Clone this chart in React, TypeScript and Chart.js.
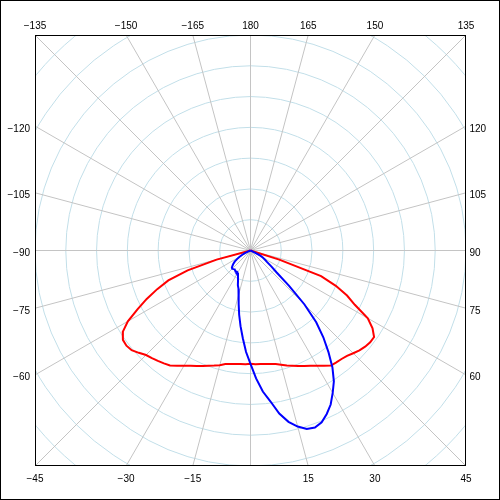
import React, { useEffect, useRef } from "react";
import { Chart, registerables } from "chart.js";

Chart.register(...registerables);

// Polar angles (degrees; 0 = straight down, 90 = right, 180 = up)
const ANGLES = [
  -77.5, -75, -72.5, -70, -67.5, -65, -62.5, -60, -57.5, -55, -52.5, -50, -47.5, -45, -42.5, -40,
  -37.5, -35, -32.5, -30, -27.5, -25, -22.5, -20, -17.5, -15, -12.5, -10, -7.5, -5, -2.5, 0,
  2.5, 5, 7.5, 10, 12.5, 15, 17.5, 20, 22.5, 25, 27.5, 30, 32.5, 35, 37.5, 40,
  42.5, 45, 47.5, 50, 52.5, 55, 57.5, 60, 62.5, 65, 67.5, 70, 72.5, 75,
];

// Red curve intensity per angle
const RED_VALUES = [
  0, 57, 107, 142, 164, 186, 207, 230, 246, 253, 254, 252, 246, 240, 237, 234,
  231, 228, 222, 216, 211, 207, 203, 199, 196, 193, 189, 187, 186, 185, 185, 184,
  185, 185, 186, 187, 189, 192, 196, 199, 203, 207, 211, 216, 222, 228, 229, 230,
  232, 236, 240, 243, 245, 245, 235, 220, 191, 173, 150, 122, 49, 0,
];

// Blue curve intensity per angle
const BLUE_VALUES = [
  0, 0, 0, 0, 3, 10, 15, 21, 26, 31, 35, 38, 41, 42, 41, 40,
  41, 42, 41, 42, 44, 48, 53, 60, 65, 74, 89, 106, 124, 143, 165, 184,
  208, 230, 247, 269, 285, 296, 304, 306, 302, 293, 282, 267, 252, 232, 208, 184,
  158, 124, 85, 55, 43, 33, 28, 23, 18, 7, 0, 0, 0, 0,
];

// Grid: concentric rings and radial spokes
const RING_VALUES = [50, 100, 150, 200, 250, 300, 350, 400, 450, 500];
const SPOKE_ANGLES = [
  -165, -150, -135, -120, -105, -90, -75, -60, -45, -30, -15, 0,
  15, 30, 45, 60, 75, 90, 105, 120, 135, 150, 165, 180,
];
const LABEL_ANGLES = [
  -135, -150, -165, 180, 165, 150, 135,
  -120, -105, -90, -75, -60,
  120, 105, 90, 75, 60,
  -45, -30, -15, 15, 30, 45,
];
const LIMIT = 350;

const fmt = (v: number) => String(v).replace("-", "\u2212");

export default function App() {
  const ref = useRef<HTMLCanvasElement>(null);

  useEffect(() => {
    const canvas = ref.current;
    if (!canvas) return;
    document.body.style.margin = "0";

    const toXY = (rs: number[]) =>
      ANGLES.map((a, i) => {
        const t = (a * Math.PI) / 180;
        return { x: rs[i] * Math.sin(t), y: -rs[i] * Math.cos(t) };
      });

    const polarPlugin = {
      id: "polarGrid",
      beforeDatasetsDraw(chart: any) {
        const { ctx, chartArea: ca, scales } = chart;
        const xs = scales.x;
        const ys = scales.y;
        const cx = xs.getPixelForValue(0);
        const cy = ys.getPixelForValue(0);
        ctx.save();
        ctx.beginPath();
        ctx.rect(ca.left, ca.top, ca.right - ca.left, ca.bottom - ca.top);
        ctx.clip();
        ctx.lineWidth = 1;
        ctx.strokeStyle = "#c2dfe9";
        for (const rv of RING_VALUES) {
          const rp = xs.getPixelForValue(rv) - cx;
          ctx.beginPath();
          ctx.arc(cx, cy, rp, 0, Math.PI * 2);
          ctx.stroke();
        }
        ctx.strokeStyle = "#c4c4c4";
        const far = LIMIT * 2;
        for (const a of SPOKE_ANGLES) {
          const t = (a * Math.PI) / 180;
          ctx.beginPath();
          ctx.moveTo(cx, cy);
          ctx.lineTo(xs.getPixelForValue(far * Math.sin(t)), ys.getPixelForValue(-far * Math.cos(t)));
          ctx.stroke();
        }
        ctx.restore();
      },
      afterDraw(chart: any) {
        const { ctx, chartArea: ca, scales, width, height } = chart;
        const xs = scales.x;
        const ys = scales.y;
        ctx.save();
        ctx.strokeStyle = "#000";
        ctx.lineWidth = 1;
        ctx.strokeRect(ca.left + 0.5, ca.top + 0.5, ca.right - ca.left - 1, ca.bottom - ca.top - 1);
        ctx.strokeRect(0.5, 0.5, width - 1, height - 1);
        ctx.fillStyle = "#000";
        ctx.font = "10px 'Liberation Sans', Arial, sans-serif";
        ctx.textBaseline = "alphabetic";
        for (const a of LABEL_ANGLES) {
          const t = (a * Math.PI) / 180;
          const dx = Math.sin(t);
          const dy = -Math.cos(t);
          const s = LIMIT / Math.max(Math.abs(dx), Math.abs(dy));
          const px = xs.getPixelForValue(s * dx);
          const py = ys.getPixelForValue(s * dy);
          const txt = fmt(a);
          if (Math.abs(dy) >= Math.abs(dx) - 1e-6) {
            ctx.textAlign = "center";
            if (dy > 0) ctx.fillText(txt, px, ca.top - 6);
            else ctx.fillText(txt, px, ca.bottom + 15.5);
          } else if (dx < 0) {
            ctx.textAlign = "right";
            ctx.fillText(txt, ca.left - 5, py + 5.5);
          } else {
            ctx.textAlign = "left";
            ctx.fillText(txt, ca.right + 3.5, py + 5.5);
          }
        }
        ctx.restore();
      },
    };

    const chart = new Chart(canvas, {
      type: "scatter",
      data: {
        datasets: [
          {
            label: "Blue",
            data: toXY(BLUE_VALUES),
            showLine: true,
            borderColor: "#0000ff",
            backgroundColor: "#0000ff",
            borderWidth: 2,
            pointRadius: 0,
            tension: 0,
          },
          {
            label: "Red",
            data: toXY(RED_VALUES),
            showLine: true,
            borderColor: "#ff0000",
            backgroundColor: "#ff0000",
            borderWidth: 2,
            pointRadius: 0,
            tension: 0,
          },
        ],
      },
      options: {
        animation: false,
        responsive: false,
        events: [],
        layout: { padding: { left: 35, top: 35, right: 34, bottom: 34 } },
        scales: {
          x: { type: "linear", min: -LIMIT, max: LIMIT, display: false },
          y: { type: "linear", min: -LIMIT, max: LIMIT, display: false },
        },
        plugins: { legend: { display: false }, tooltip: { enabled: false } },
      },
      plugins: [polarPlugin],
    } as any);

    return () => chart.destroy();
  }, []);

  return (
    <div style={{ position: "fixed", left: 0, top: 0, width: 500, height: 500, background: "#fff" }}>
      <canvas ref={ref} width={500} height={500} style={{ display: "block", width: 500, height: 500 }} />
    </div>
  );
}
